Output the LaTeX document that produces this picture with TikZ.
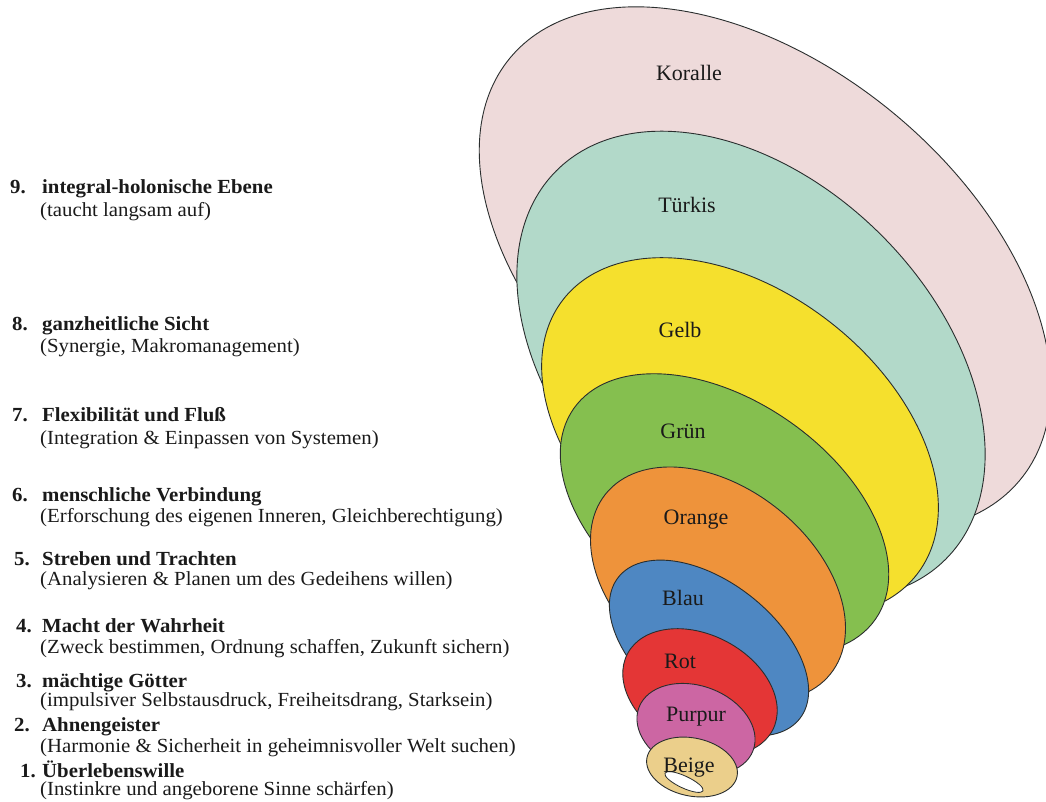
\documentclass[tikz,border=0pt]{standalone}
\usepackage{fontspec}
\setmainfont{Liberation Serif}
\newfontfamily\leftfont{Liberation Serif}[FakeStretch=1.04]
\definecolor{outl}{HTML}{2A2E2E}
\definecolor{koralle}{HTML}{EEDADA}
\definecolor{tuerkis}{HTML}{B2D9C9}
\definecolor{gelb}{HTML}{F5E02D}
\definecolor{gruen}{HTML}{85BF4F}
\definecolor{orangec}{HTML}{EE933B}
\definecolor{blau}{HTML}{4E87C2}
\definecolor{rot}{HTML}{E43636}
\definecolor{purpur}{HTML}{CC66A3}
\definecolor{beige}{HTML}{EBCF8B}
\definecolor{ink}{HTML}{1A1A1A}
\begin{document}
\begin{tikzpicture}[x=1pt,y=-1pt,
  ring/.style={draw=outl, line width=0.9pt},
  lab/.style={anchor=base, inner sep=0pt, text=ink, font=\fontsize{22}{24}\selectfont},
  num/.style={anchor=base west, inner sep=0pt, text=ink, font=\leftfont\fontsize{20}{22}\selectfont\bfseries},
  head/.style={anchor=base west, inner sep=0pt, text=ink, font=\leftfont\fontsize{20}{22}\selectfont\bfseries},
  sub/.style={anchor=base west, inner sep=0pt, text=ink, font=\leftfont\fontsize{20}{22}\selectfont}]
\useasboundingbox (0,0) rectangle (1046,801);
\fill[white] (0,0) rectangle (1046,801);
% ellipses
\draw[ring, fill=koralle, shift={(765,269)}, rotate=-39.6] (0,0) ellipse [x radius=331, y radius=202];
\draw[ring, fill=tuerkis, shift={(751,365)}, rotate=-44.9] (0,0) ellipse [x radius=275, y radius=184];
\draw[ring, fill=gelb, shift={(740,437)}, rotate=-37.8] (0,0) ellipse [x radius=224, y radius=146];
\draw[ring, fill=gruen, shift={(724.5,514)}, rotate=-34.9] (0,0) ellipse [x radius=184, y radius=113];
\draw[ring, fill=orangec, shift={(718,584)}, rotate=-38.6] (0,0) ellipse [x radius=144, y radius=96];
\draw[ring, fill=blau, shift={(709,648)}, rotate=-37.8] (0,0) ellipse [x radius=115, y radius=66.5];
\draw[ring, fill=rot, shift={(700,692)}, rotate=-27.9] (0,0) ellipse [x radius=82, y radius=57];
\draw[ring, fill=purpur, shift={(696,729)}, rotate=-20.6] (0,0) ellipse [x radius=61, y radius=43];
\draw[ring, fill=beige, shift={(692,767)}, rotate=-12] (0,0) ellipse [x radius=46, y radius=29];
\draw[ring, line width=0.8pt, fill=white, shift={(684,782)}, rotate=-25] (0,0) ellipse [x radius=21, y radius=6];
% ellipse labels
\node[lab] (lk) at (689,80) {Koralle};
\node[lab] (lt) at (687,212) {Türkis};
\node[lab] (lg) at (680,337) {Gelb};
\node[lab] (lgr) at (683,438) {Grün};
\node[lab] (lo) at (696,524) {Orange};
\node[lab] (lb) at (683,605) {Blau};
\node[lab] (lr) at (680,668) {Rot};
\node[lab] (lp) at (696,721) {Purpur};
\node[lab] (lbe) at (689,772) {Beige};
% left texts
\node[num] (n9) at (10,193) {9.};
\node[head] (h9) at (42,193) {integral-holonische Ebene};
\node[sub] (s9) at (40,216) {(taucht langsam auf)};
\node[num] (n8) at (12,330) {8.};
\node[head] (h8) at (42,330) {ganzheitliche Sicht};
\node[sub] (s8) at (40,352) {(Synergie, Makromanagement)};
\node[num] (n7) at (12,421) {7.};
\node[head] (h7) at (42,421) {Flexibilität und Fluß};
\node[sub] (s7) at (40,444) {(Integration \& Einpassen von Systemen)};
\node[num] (n6) at (12,501) {6.};
\node[head] (h6) at (42,501) {menschliche Verbindung};
\node[sub] (s6) at (40,522) {(Erforschung des eigenen Inneren, Gleichberechtigung)};
\node[num] (n5) at (14,565) {5.};
\node[head] (h5) at (42,565) {Streben und Trachten};
\node[sub] (s5) at (40,585) {(Analysieren \& Planen um des Gedeihens willen)};
\node[num] (n4) at (16,632) {4.};
\node[head] (h4) at (42,632) {Macht der Wahrheit};
\node[sub] (s4) at (40,653) {(Zweck bestimmen, Ordnung schaffen, Zukunft sichern)};
\node[num] (n3) at (16,687) {3.};
\node[head] (h3) at (42,687) {mächtige Götter};
\node[sub] (s3) at (40,706) {(impulsiver Selbstausdruck, Freiheitsdrang, Starksein)};
\node[num] (n2) at (14,731) {2.};
\node[head] (h2) at (42,731) {Ahnengeister};
\node[sub] (s2) at (40,752) {(Harmonie \& Sicherheit in geheimnisvoller Welt suchen)};
\node[num] (n1) at (20,777) {1.};
\node[head] (h1) at (42,777) {Überlebenswille};
\node[sub] (s1) at (40,795) {(Instinkre und angeborene Sinne schärfen)};
\end{tikzpicture}
\end{document}
